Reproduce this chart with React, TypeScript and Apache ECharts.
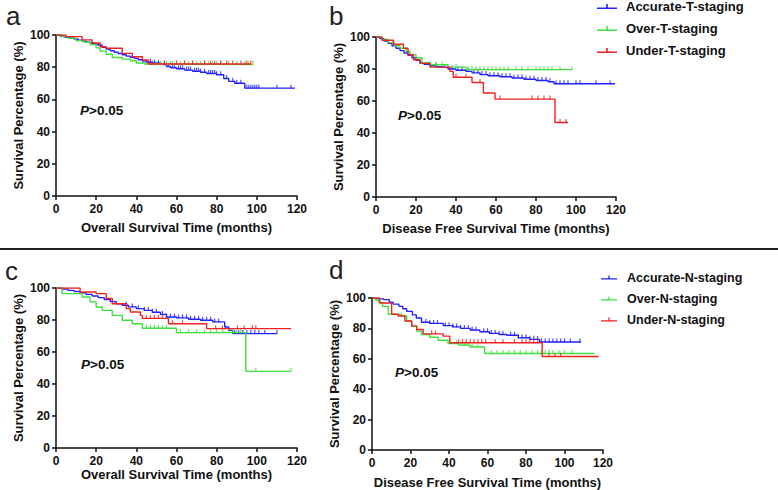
import React, { useEffect, useRef } from "react";
import * as echarts from "echarts";

// ---------- names / labels ----------
const T_NAMES = ["Accurate-T-staging", "Over-T-staging", "Under-T-staging"];
const N_NAMES = ["Accurate-N-staging", "Over-N-staging", "Under-N-staging"];
const X_TITLES = [
  "Overall Survival Time (months)",
  "Disease Free Survival Time (months)",
  "Overall Survival Time (months)",
  "Disease Free Survival Time (months)",
];
const Y_TITLE = "Survival Percentage (%)";
const PANEL_LETTERS = ["a", "b", "c", "d"];
const P_TEXT = ">0.05";

// ---------- panel a : OS, T staging ----------
const aAccSteps = [[0,100],[2,99.4],[4,98.8],[7,98.1],[9,97.5],[11,96.8],[13,96.2],[15,95.6],[17,95],[19,94.4],[21,93.6],[23,92.4],[25,91.2],[27,90.2],[29,89.3],[31,88.5],[33,87.7],[35,86.9],[37,86.2],[39,85.5],[41,84.6],[43,83.8],[45,83.1],[48,82.6],[51,82.2],[53,81.6],[55,80.4],[57,79.7],[60,79],[64,78.2],[68,77.5],[72,76.9],[75,76.1],[80,75.3],[83.5,73],[86,71.2],[89,70],[94,67],[119,67]];
const aAccCensor = [47,49,51,54,56,58,59,61,62,63,65,66,67,69,70,71,72,74,76,77,78,79,80,82,85,88,90,92,95,96,97,98,99,100,101,110,117];
const aOverSteps = [[0,100],[3,99],[6,98],[10,96.5],[14,95.5],[17,94],[20,92],[22,90],[25,88],[28,86],[33,85],[37,84],[40,82.6],[44,82],[48,81.6],[98,81.6]];
const aOverCensor = [50,52,55,57,58,60,62,64,66,68,70,72,74,76,78,80,82,86,90,94,96,98];
const aUnderSteps = [[0,100],[5,99],[13,97],[18,95],[22,92.7],[25,91.8],[33,88.6],[38,86.5],[43,84.5],[46,82],[97,82]];
const aUnderCensor = [48,54,60,64,68,74,77,79,82,85,88,92,95,97];

// ---------- panel b : DFS, T staging ----------
const bAccSteps = [[0,100],[2,99],[4,97.5],[6,96],[8,94.5],[10,93],[12,91.5],[14,90],[16,88.5],[18,87],[20,85.5],[22,84],[24,83],[27,82],[30,81.5],[33,81],[36,80],[40,79.2],[45,78.5],[48,77.6],[52,76.5],[56,75.8],[62,75.2],[68,74.4],[74,73.6],[80,72.8],[86,72],[89,70.8],[119.5,70.8]];
const bAccCensor = [30,34,38,41,43,46,49,51,53,55,57,59,61,63,65,67,69,71,73,75,77,79,81,83,85,87,90,92,94,96,100,102,110,117];
const bOverSteps = [[0,100],[3,98.5],[6,96.5],[9,94.5],[12,93],[15,91],[17,89],[20,87],[23,84],[27,82.7],[36,81.2],[45,79.6],[98,79.6]];
const bOverCensor = [30,33,40,46,48,50,52,54,56,58,60,62,64,66,70,73,76,80,82,84,86,88,92,98];
const bUnderSteps = [[0,100],[3,98],[8.7,95.5],[13.7,93],[16,88.9],[18.7,85.8],[22,83.5],[27,81.2],[37,78.5],[38.6,74.8],[48,71.6],[53.7,65],[59.5,61.2],[89.5,46.6],[96,46.6]];
const bUnderCensor = [40,45,52,62,78,81,84,87,92,95];

// ---------- panel c : OS, N staging ----------
const cAccSteps = [[0,100],[3,99.3],[6,98.5],[9,97.8],[12,97],[15,96],[18,95],[21,94],[24,92.8],[27,91.5],[30,90.2],[33,89.2],[36,88.2],[40,87.1],[44,86],[48,84.8],[52,83.5],[55,81.9],[60,81.3],[66,80.5],[72,79.8],[78,78.8],[84,75.6],[86,73.5],[88,71.5],[110,71.5]];
const cAccCensor = [35,38,41,44,46,48,50,53,55,57,59,61,63,65,67,69,71,73,75,77,79,81,89,91,93,95,97,99,101,104,110];
const cOverSteps = [[0,100],[3,96.5],[13,94.4],[17,91.3],[20,88.1],[23,86],[28,82.9],[33,79.8],[38,77.7],[43,74.8],[60,72.1],[94.5,47.9],[117,47.9]];
const cOverCensor = [45,47,49,51,53,55,62,66,70,74,77,80,83,86,88,90,92,99.5,117];
const cUnderSteps = [[0,100],[12,97.5],[20,96.5],[25,93.4],[28,90.2],[35,87.1],[37,85],[42,82.9],[43,81],[56,77.7],[75,74.6],[117,74.6]];
const cUnderCensor = [45,47,49,51,53,58,63,79.5,82.8,90.3,93.7,97.8,99.5];

// ---------- panel d : DFS, N staging ----------
const dAccSteps = [[0,100],[3,99.4],[6,98.9],[9,97.2],[11,96],[14,94.5],[16,92.9],[18,91.2],[21,88.9],[23,86.8],[25.7,84],[30,83.3],[37,81.8],[42,81],[46,80],[51,78.9],[56,77.8],[61,76.7],[66,76],[70,75.5],[76,73.8],[82,72.8],[87,71.1],[108.6,71.1]];
const dAccCensor = [28,30,32,34,38,40,42,44,46,48,50,52,54,58,60,62,64,66,68,72,74,76,78,80,82,84,86,88,90,92,94,96,98,100,103,108];
const dOverSteps = [[0,100],[2,98.5],[3.6,97],[5.5,94.5],[8.5,89.3],[15.4,88.2],[18,84.9],[20.6,81.5],[23.2,78.2],[25.7,76],[30,74.2],[34.4,72.2],[39.5,70],[45,69],[50.8,67.8],[58.5,63.5],[115.5,63.5]];
const dOverCensor = [44,46,47,48,49,50,52,55,62,65,68,71,74,77,80,83,86,88,90,92,94,97,100,104];
const dUnderSteps = [[0,100],[4,96.7],[10.2,89.3],[13.6,88.2],[17.1,84.9],[20.6,81.5],[23.2,79.3],[26.6,76.4],[37,74.9],[40.4,70.6],[88.4,61.5],[117.8,61.5]];
const dUnderCensor = [31,33,45,47,49,51,53,55,57,59,64,68,74,78,80,82,84,86,92,95,98];

const COLORS = ["#2323ff", "#3ee03e", "#ee2222"];
const FONT = "Liberation Sans, Arial, Helvetica, sans-serif";

const PANELS = [
  { names: T_NAMES, steps: [aAccSteps, aOverSteps, aUnderSteps], censors: [aAccCensor, aOverCensor, aUnderCensor], grid: { left: 56, top: 35, width: 241, height: 161 } },
  { names: T_NAMES, steps: [bAccSteps, bOverSteps, bUnderSteps], censors: [bAccCensor, bOverCensor, bUnderCensor], grid: { left: 376, top: 37, width: 240, height: 160 } },
  { names: N_NAMES, steps: [cAccSteps, cOverSteps, cUnderSteps], censors: [cAccCensor, cOverCensor, cUnderCensor], grid: { left: 56, top: 288, width: 241, height: 160 } },
  { names: N_NAMES, steps: [dAccSteps, dOverSteps, dUnderSteps], censors: [dAccCensor, dOverCensor, dUnderCensor], grid: { left: 372, top: 298, width: 231, height: 152 } },
];

function survAt(steps: number[][], t: number) {
  let v = steps[0][1];
  for (const [x, y] of steps) {
    if (x <= t) v = y;
    else break;
  }
  return v;
}

const LEGEND_ICON = "path://M0,4L20,4L20,5.6L0,5.6Z M9.2,0.5L10.8,0.5L10.8,5.6L9.2,5.6Z";

export default function App() {
  const ref = useRef<HTMLDivElement>(null);
  useEffect(() => {
    if (!ref.current) return;
    const chart = echarts.init(ref.current, null, { renderer: "svg" });

    const grids: any[] = [];
    const xAxes: any[] = [];
    const yAxes: any[] = [];
    const series: any[] = [];

    PANELS.forEach((p, i) => {
      grids.push({ ...p.grid, containLabel: false });
      xAxes.push({
        type: "value",
        gridIndex: i,
        min: 0,
        max: 120,
        interval: 20,
        name: X_TITLES[i],
        nameLocation: "middle",
        nameGap: i >= 2 ? (i === 3 ? 26 : 19) : 25,
        nameTextStyle: { fontFamily: FONT, fontWeight: "bold", fontSize: 13, color: "#111" },
        axisLine: { show: true, lineStyle: { color: "#111", width: 1.5 } },
        axisTick: { show: true, length: 4, lineStyle: { color: "#111", width: 1.5 } },
        axisLabel: { fontFamily: FONT, fontWeight: "bold", fontSize: 12, color: "#111", margin: 7 },
        splitLine: { show: false },
      });
      yAxes.push({
        type: "value",
        gridIndex: i,
        min: 0,
        max: 100,
        interval: 20,
        name: Y_TITLE,
        nameLocation: "middle",
        nameRotate: 90,
        nameGap: 31,
        nameTextStyle: { fontFamily: FONT, fontWeight: "bold", fontSize: 13, color: "#111" },
        axisLine: { show: true, lineStyle: { color: "#111", width: 1.5 } },
        axisTick: { show: true, length: 4, lineStyle: { color: "#111", width: 1.5 } },
        axisLabel: { fontFamily: FONT, fontWeight: "bold", fontSize: 12, color: "#111", margin: 6 },
        splitLine: { show: false },
      });
      // draw order: over, under, accurate (accurate on top)
      [1, 2, 0].forEach((j) => {
        const steps = p.steps[j];
        series.push({
          type: "line",
          name: p.names[j],
          xAxisIndex: i,
          yAxisIndex: i,
          step: "end",
          data: steps,
          showSymbol: false,
          symbol: "none",
          lineStyle: { color: COLORS[j], width: 1.4 },
          itemStyle: { color: COLORS[j] },
          z: 2 + j,
        });
        series.push({
          type: "scatter",
          name: p.names[j] + " censored",
          xAxisIndex: i,
          yAxisIndex: i,
          data: p.censors[j].map((t) => [t, survAt(steps, t)]),
          symbol: "rect",
          symbolSize: [1.2, 4],
          symbolOffset: [0, -1.5],
          itemStyle: { color: COLORS[j] },
          silent: true,
          z: 2 + j,
        });
      });
    });

    const letterPos = [
      { x: 6, y: 3 },
      { x: 329, y: 3 },
      { x: 5, y: 258 },
      { x: 329, y: 257 },
    ];
    const pPos = [
      { x: 80, y: 110 },
      { x: 398, y: 115 },
      { x: 81, y: 364 },
      { x: 395, y: 372 },
    ];

    const graphic: any[] = [
      { type: "line", shape: { x1: 0, y1: 249, x2: 778, y2: 249 }, style: { stroke: "#222", lineWidth: 2 } },
    ];
    PANEL_LETTERS.forEach((l, i) => {
      graphic.push({
        type: "text",
        x: letterPos[i].x,
        y: letterPos[i].y,
        style: { text: l, fontFamily: FONT, fontSize: 26, fill: "#222", textVerticalAlign: "top", textAlign: "left" },
      });
      graphic.push({
        type: "text",
        x: pPos[i].x,
        y: pPos[i].y,
        style: {
          text: "{p|P}" + P_TEXT,
          fontFamily: FONT,
          fontWeight: "bold",
          fontSize: 13.5,
          fill: "#111",
          textVerticalAlign: "middle",
          rich: { p: { fontStyle: "italic", fontWeight: "bold", fontSize: 13.5, fontFamily: FONT, fill: "#111" } },
        },
      });
    });

    chart.setOption({
      animation: false,
      backgroundColor: "#fff",
      grid: grids,
      xAxis: xAxes,
      yAxis: yAxes,
      series,
      legend: [
        {
          data: T_NAMES,
          orient: "vertical",
          left: 597,
          top: 0,
          padding: 0,
          itemGap: 9,
          itemWidth: 20,
          itemHeight: 8,
          icon: LEGEND_ICON,
          selectedMode: false,
          textStyle: { fontFamily: FONT, fontWeight: "bold", fontSize: 13, color: "#111", padding: [0, 0, 0, 4] },
        },
        {
          data: N_NAMES,
          orient: "vertical",
          left: 601,
          top: 271,
          padding: 0,
          itemGap: 8,
          itemWidth: 16,
          itemHeight: 7,
          icon: LEGEND_ICON,
          selectedMode: false,
          textStyle: { fontFamily: FONT, fontWeight: "bold", fontSize: 12.5, color: "#111", padding: [0, 0, 0, 5] },
        },
      ],
      graphic,
    });
    return () => chart.dispose();
  }, []);
  return <div ref={ref} style={{ position: "fixed", left: 0, top: 0, width: 778, height: 490 }} />;
}
